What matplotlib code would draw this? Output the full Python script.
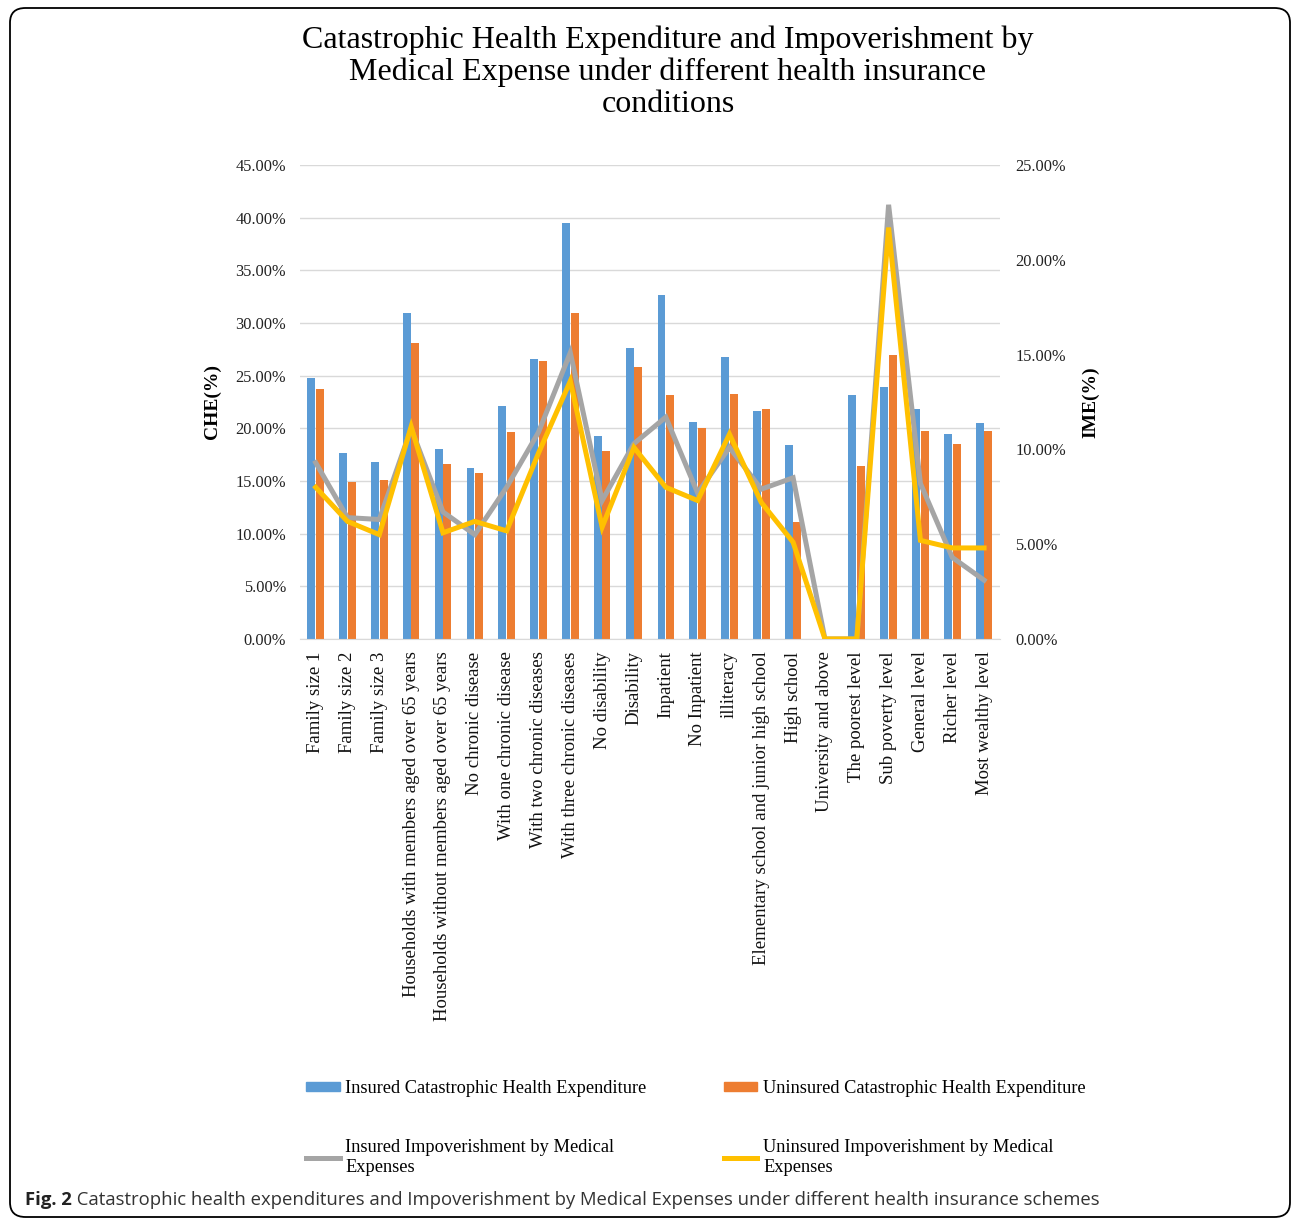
import numpy as np
import matplotlib
matplotlib.use('Agg')
import matplotlib.pyplot as plt
from matplotlib.patches import FancyBboxPatch, Patch
from matplotlib.lines import Line2D
from matplotlib.ticker import FuncFormatter

#categories along the x axis
categories = ['Family size 1', 'Family size 2', 'Family size 3',
              'Households with members aged over 65 years',
              'Households without members aged over 65 years',
              'No chronic disease', 'With one chronic disease',
              'With two chronic diseases', 'With three chronic diseases',
              'No disability', 'Disability', 'Inpatient', 'No Inpatient',
              'illiteracy', 'Elementary school and junior high school',
              'High school', 'University and above', 'The poorest level',
              'Sub poverty level', 'General level', 'Richer level',
              'Most wealthy level']

#CHE values (left axis, %)
insured_che = [24.8, 17.7, 16.8, 30.9, 18.0, 16.2, 22.1, 26.6, 39.5, 19.3, 27.6,
               32.7, 20.6, 26.8, 21.6, 18.4, 0.0, 23.2, 23.9, 21.8, 19.5, 20.5]
uninsured_che = [23.7, 14.9, 15.1, 28.1, 16.6, 15.8, 19.6, 26.4, 30.9, 17.8, 25.8,
                 23.2, 20.0, 23.3, 21.8, 11.1, 0.0, 16.4, 27.0, 19.7, 18.5, 19.7]

#IME values (right axis, %)
insured_ime = [9.3, 6.4, 6.3, 11.1, 6.7, 5.5, 8.0, 10.9, 15.1, 7.3, 10.3,
               11.7, 7.7, 10.1, 7.9, 8.5, 0.0, 0.0, 22.9, 8.2, 4.3, 3.1]
uninsured_ime = [8.0, 6.2, 5.5, 11.2, 5.6, 6.2, 5.7, 9.8, 13.6, 5.9, 10.1,
                 8.0, 7.3, 10.8, 7.2, 5.1, 0.0, 0.0, 21.7, 5.2, 4.8, 4.8]

blue = '#5B9BD5'
orange = '#ED7D31'
gray = '#A5A5A5'
yellow = '#FFC000'

plt.rcParams['font.family'] = ['Liberation Serif', 'DejaVu Serif']

fig = plt.figure(figsize=(12.92, 12.21), dpi=100)
ax = fig.add_axes([0.232, 0.4767, 0.542, 0.3882])
ax2 = ax.twinx()

x = np.arange(len(categories))
w = 0.25
ax.bar(x - w / 2 - 0.01, insured_che, w, color=blue, zorder=2)
ax.bar(x + w / 2 + 0.01, uninsured_che, w, color=orange, zorder=2)

ax2.plot(x, insured_ime, color=gray, lw=3.6, solid_joinstyle='miter', zorder=3)
ax2.plot(x, uninsured_ime, color=yellow, lw=3.6, solid_joinstyle='miter', zorder=4)

ax.set_xlim(-0.5, len(categories) - 0.5)
ax.set_ylim(0, 45)
ax.set_yticks(np.arange(0, 46, 5))
ax2.set_ylim(0, 25)
ax2.set_yticks(np.arange(0, 26, 5))

pct = FuncFormatter(lambda v, p: '%.2f%%' % v)
ax.yaxis.set_major_formatter(pct)
ax2.yaxis.set_major_formatter(pct)

ax.grid(axis='y', color='#D9D9D9', lw=1, zorder=0)
ax.set_axisbelow(True)
for a in (ax, ax2):
    for s in a.spines.values():
        s.set_visible(False)
    a.tick_params(length=0, labelsize=11.8, colors='#222222')
ax.spines['bottom'].set_visible(True)
ax.spines['bottom'].set_color('#D9D9D9')
ax.tick_params(axis='y', pad=10)
ax2.tick_params(axis='y', pad=11)

ax.set_xticks(x)
ax.set_xticklabels(categories, rotation=90, fontsize=13.5, color='#111111')
ax.tick_params(axis='x', pad=9)

ax.set_ylabel('CHE(%)', fontsize=14, fontweight='bold', labelpad=10)
ax2.set_ylabel('IME(%)', fontsize=14, fontweight='bold', labelpad=12)

fig.text(0.517, 0.979, 'Catastrophic Health Expenditure and Impoverishment by\n'
         'Medical Expense under different health insurance\nconditions',
         ha='center', va='top', fontsize=23, linespacing=1.12)

# legend, order so rows read blue/orange then gray/yellow
handles = [Patch(color=blue), Line2D([], [], color=gray, lw=3.6),
           Patch(color=orange), Line2D([], [], color=yellow, lw=3.6)]
labels = ['Insured Catastrophic Health Expenditure',
          'Insured Impoverishment by Medical\nExpenses',
          'Uninsured Catastrophic Health Expenditure',
          'Uninsured Impoverishment by Medical\nExpenses']
fig.legend(handles, labels, ncol=2, loc='upper left',
           bbox_to_anchor=(0.224, 0.129), bbox_transform=fig.transFigure,
           frameon=False, fontsize=13.2, handlelength=1.85, handleheight=0.4,
           handletextpad=0.3, columnspacing=4.2, labelspacing=2.3)

# rounded frame around the whole figure
frame = FancyBboxPatch((10 / 1292, 1 - 1217 / 1221), 1280 / 1292, 1209 / 1221,
                       boxstyle='round,pad=0,rounding_size=0.012',
                       transform=fig.transFigure, fill=False, ec='black', lw=1.3)
fig.patches.append(frame)

cap = fig.text(25 / 1292, 1 - 1200 / 1221, 'Fig. 2', fontsize=13.3, fontweight='bold',
               family='Open Sans', va='center', ha='left', color='#222222')
ax.annotate(' Catastrophic health expenditures and Impoverishment by Medical Expenses '
            'under different health insurance schemes', xy=(1, 0), xycoords=cap,
            va='bottom', ha='left', fontsize=13.3, family='Open Sans',
            color='#333333', annotation_clip=False)

fig.savefig('out.png', dpi=100)
